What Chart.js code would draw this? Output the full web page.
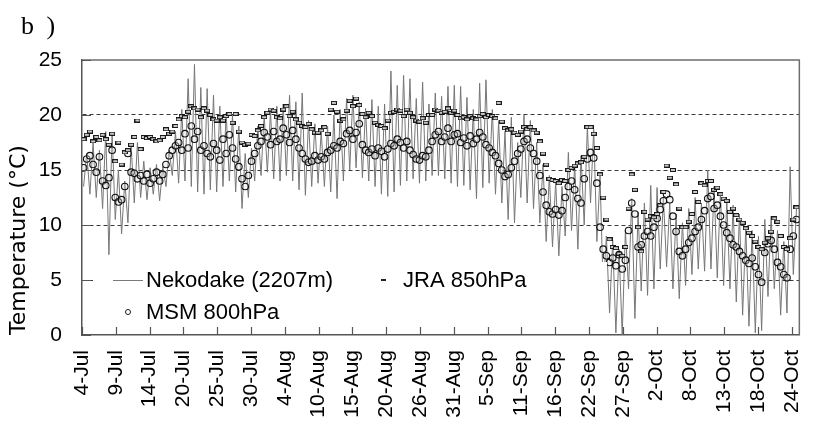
<!DOCTYPE html>
<html>
<head>
<meta charset="utf-8">
<style>
  html, body { margin: 0; padding: 0; background: #fff; }
  #wrap { width: 832px; height: 432px; }
</style>
<script src="https://cdn.jsdelivr.net/npm/chart.js@4.4.1/dist/chart.umd.min.js"></script>
</head>
<body>
<div id="wrap"><canvas id="myChart" width="832" height="432"></canvas></div>
<script>
const tickLabels = ["4-Jul", "9-Jul", "14-Jul", "20-Jul", "25-Jul", "30-Jul", "4-Aug", "10-Aug", "15-Aug", "20-Aug", "26-Aug",
  "31-Aug", "5-Sep", "11-Sep", "16-Sep", "22-Sep", "27-Sep", "2-Oct", "8-Oct", "13-Oct", "18-Oct", "24-Oct"];
const daysPerLabel = 16 / 3; // excel shows a label every 128 hourly categories
const yTicks = [0, 5, 10, 15, 20, 25];

// two readings per day starting 4-Jul
const nekodake = [
  13.5, 16.5, 12.8, 17.5, 12.5, 16.8, 11.5, 18.5, 7.3, 18.4, 10.5, 15.0, 9.2, 14.0, 10.2, 17.3, 12.0, 17.5, 12.5, 15.8,
  12.3, 15.2, 12.8, 15.5, 12.2, 15.3, 13.5, 16.8, 14.5, 18.5, 13.8, 20.5, 14.0, 23.3, 13.5, 24.6, 13.0, 22.5, 12.8, 22.4,
  13.2, 21.8, 13.0, 20.8, 13.5, 20.2, 14.0, 20.0, 13.0, 19.0, 11.5, 16.5, 12.5, 17.0, 14.0, 19.0, 14.5, 20.0, 14.8, 20.3,
  14.2, 20.8, 14.0, 21.0, 14.5, 21.8, 14.0, 21.2, 13.2, 22.0, 12.7, 19.5, 13.5, 19.2, 13.8, 18.5, 13.5, 19.0, 13.0, 20.0,
  12.4, 20.5, 14.0, 21.5, 15.0, 21.8, 15.2, 21.2, 14.3, 20.6, 14.0, 21.4, 13.5, 20.8, 12.8, 21.0, 12.6, 24.0, 13.0, 22.7,
  13.6, 23.6, 14.0, 23.3, 14.2, 21.5, 13.8, 23.0, 14.0, 21.0, 14.5, 22.0, 14.5, 21.7, 14.2, 22.6, 13.8, 22.7, 13.5, 22.6,
  13.6, 21.6, 13.2, 20.5, 12.4, 22.9, 13.4, 23.2, 13.8, 20.5, 12.8, 19.5, 12.0, 18.5, 10.5, 19.8, 10.2, 17.5, 12.5, 20.0,
  12.0, 19.5, 11.5, 17.5, 10.2, 15.5, 8.5, 14.5, 8.0, 14.0, 7.2, 13.5, 9.0, 16.6, 9.5, 15.5, 7.8, 16.3, 10.0, 19.0,
  12.0, 18.7, 8.5, 14.5, 4.0, 9.0, 2.0, 8.6, 0.2, 7.8, 0.0, 9.5, 4.2, 12.4, 1.5, 11.2, 4.0, 12.0, 3.6, 13.6,
  4.2, 13.4, 6.0, 12.5, 6.2, 12.0, 4.2, 11.0, 3.3, 10.2, 4.5, 11.5, 5.5, 12.5, 6.0, 12.0, 5.8, 15.0, 6.0, 13.5,
  5.2, 13.0, 4.5, 12.3, 4.2, 11.8, 3.0, 11.0, 1.8, 9.8, 0.8, 9.5, 0.2, 9.0, 0.4, 10.5, 3.5, 10.8, 4.2, 9.5,
  1.8, 8.5, 2.0, 15.3, 5.5, 11.5
];
const msm800 = [
  15.2, 16.0, 16.3, 15.5, 14.8, 16.2, 14.0, 13.6, 14.3, 16.8, 12.5, 12.1, 12.3, 13.5, 16.5, 14.8, 14.7, 14.2, 14.5, 14.0,
  14.6, 13.8, 14.2, 14.8, 14.0, 14.6, 15.5, 16.3, 16.8, 17.2, 17.5, 16.8, 18.3, 17.0, 19.0, 17.8, 18.5, 16.8, 17.2, 16.5,
  16.2, 17.4, 16.8, 15.9, 17.8, 16.5, 18.2, 17.0, 16.0, 15.3, 14.2, 13.5, 14.5, 15.8, 16.5, 17.2, 17.6, 18.4, 18.0, 17.3,
  18.5, 17.6, 17.8, 18.8, 18.2, 17.5, 18.6, 17.8, 17.0, 16.5, 16.0, 15.7, 15.8, 16.3, 15.9, 16.2, 16.0, 16.6, 16.8, 17.2,
  17.0, 17.6, 17.4, 18.3, 18.6, 17.8, 18.4, 19.2, 17.3, 16.8, 16.6, 16.9, 16.3, 17.0, 16.7, 16.2, 16.9, 17.4, 17.2, 17.8,
  17.5, 17.0, 17.6, 16.8, 16.4, 16.0, 15.9, 16.3, 16.2, 16.8, 17.6, 18.2, 18.5, 17.6, 18.0, 18.8, 17.6, 18.2, 18.3, 17.5,
  17.9, 17.2, 18.1, 17.4, 17.8, 18.4, 18.0, 17.3, 17.0, 16.6, 16.3, 15.6, 15.0, 14.4, 14.6, 15.2, 15.8, 16.5, 16.9, 17.6,
  17.8, 17.0, 16.5, 15.8, 14.5, 13.0, 11.8, 11.2, 11.0, 11.4, 10.9, 11.3, 12.5, 13.5, 14.0, 13.2, 12.4, 12.0, 14.2, 16.0,
  16.6, 16.1, 13.8, 9.8, 7.8, 7.2, 6.6, 7.0, 6.3, 7.3, 6.0, 6.8, 9.5, 12.0, 11.0, 8.0, 8.2, 9.0, 9.4, 9.0,
  9.8, 10.6, 11.4, 12.2, 12.8, 12.3, 10.8, 9.4, 7.6, 7.2, 7.8, 8.4, 8.8, 9.4, 9.8, 10.5, 11.3, 12.4, 12.6, 11.5,
  11.8, 10.8, 10.0, 9.3, 8.8, 8.2, 8.0, 7.6, 7.2, 6.8, 6.5, 7.0, 6.2, 5.5, 4.8, 7.5, 8.3, 8.6, 7.8, 6.6,
  6.2, 5.5, 5.2, 7.8, 9.0, 10.5
];
const jra850 = [
  17.8, 18.2, 18.5, 17.6, 18.0, 17.7, 18.2, 17.8, 17.3, 18.3, 15.8, 17.5, 15.5, 16.6, 16.8, 17.3, 18.0, 19.5, 16.9, 18.0,
  17.9, 18.0, 17.8, 17.6, 17.7, 18.0, 18.7, 18.3, 18.5, 19.0, 19.6, 19.9, 19.8, 20.3, 20.8, 20.6, 20.5, 19.8, 20.6, 20.4,
  20.0, 19.6, 19.5, 19.8, 19.5, 19.9, 20.1, 19.3, 20.1, 18.5, 17.5, 17.3, 17.4, 18.2, 18.1, 18.6, 19.0, 19.8, 20.2, 20.5,
  20.4, 19.8, 19.7, 20.5, 20.8, 19.9, 20.3, 19.6, 19.3, 19.0, 18.9, 19.2, 18.7, 18.4, 18.4, 18.6, 18.9, 18.3, 20.5, 21.1,
  20.3, 19.5, 19.6, 20.4, 21.3, 20.8, 21.5, 20.9, 20.1, 19.8, 20.2, 19.9, 19.3, 19.1, 19.0, 18.8, 19.5, 20.2, 20.3, 20.5,
  20.4, 19.9, 20.5, 20.2, 19.8, 19.5, 19.4, 19.7, 19.3, 20.0, 20.0, 20.5, 20.4, 20.2, 20.3, 20.6, 20.2, 20.4, 20.0, 19.7,
  19.8, 19.6, 19.9, 19.7, 19.6, 19.9, 20.1, 19.8, 20.0, 19.9, 19.7, 21.1, 19.4, 18.8, 18.6, 18.7, 18.4, 18.2, 18.5, 18.9,
  18.7, 18.9, 18.6, 18.4, 17.6, 16.5, 15.5, 14.2, 14.1, 14.0, 13.8, 14.1, 14.0, 15.0, 15.2, 15.4, 15.6, 15.7, 16.2, 18.9,
  18.9, 18.3, 17.0, 14.6, 12.5, 10.5, 8.7, 8.0, 7.9, 7.4, 7.2, 8.0, 11.5, 14.6, 13.2, 9.8, 7.6, 11.2, 10.5, 10.8,
  10.7, 11.0, 11.8, 13.0, 15.4, 14.3, 15.0, 13.7, 11.5, 9.8, 9.8, 10.3, 11.0, 13.0, 12.1, 13.8, 13.6, 14.0, 14.0, 13.2,
  13.4, 12.8, 12.4, 12.2, 11.2, 11.5, 10.9, 10.5, 10.2, 9.7, 9.3, 9.0, 8.5, 8.0, 7.8, 8.4, 8.8, 9.4, 10.6, 10.3,
  9.0, 8.0, 7.8, 8.8, 10.5, 11.6
];

const toPoints = (values) => values.map((v, i) => ({ x: i * 0.5 + 0.25, y: v }));

// little outlined dash used by excel for the JRA marker
const dashMarker = document.createElement("canvas");
dashMarker.width = 6;
dashMarker.height = 4;
const dctx = dashMarker.getContext("2d");
dctx.fillStyle = "#c8c8c8";
dctx.fillRect(0, 0, 6, 4);
dctx.strokeStyle = "#1a1a1a";
dctx.lineWidth = 1;
dctx.strokeRect(0.5, 0.5, 5, 3);

const sans = "'Liberation Sans', Arial, sans-serif";

const plotExtras = {
  id: "plotExtras",
  beforeDatasetsDraw(chart) {
    const { ctx, chartArea: a } = chart;
    ctx.save();
    ctx.strokeStyle = "#6e6e6e";
    ctx.lineWidth = 1.5;
    ctx.beginPath();
    ctx.moveTo(a.left, a.top);
    ctx.lineTo(a.right, a.top);
    ctx.lineTo(a.right, a.bottom);
    ctx.stroke();
    ctx.restore();
  },
  afterDatasetsDraw(chart) {
    const { ctx } = chart;
    const ds = chart.data.datasets;
    ctx.save();
    ctx.fillStyle = "#fff";
    ctx.fillRect(93, 262, 514, 63);
    ctx.font = "22px " + sans;
    ctx.fillStyle = "#000";
    ctx.textBaseline = "middle";
    // Nekodake
    ctx.strokeStyle = "#7a7a7a";
    ctx.lineWidth = 1;
    ctx.beginPath();
    ctx.moveTo(113, 280.5);
    ctx.lineTo(143, 280.5);
    ctx.stroke();
    ctx.fillText(ds[0].label, 146, 281);
    // JRA
    ctx.fillStyle = "#222";
    ctx.fillRect(381, 279, 5, 2);
    ctx.fillStyle = "#000";
    ctx.fillText(ds[2].label, 403, 281);
    // MSM
    ctx.strokeStyle = "#222";
    ctx.beginPath();
    ctx.arc(128, 312, 2.5, 0, Math.PI * 2);
    ctx.stroke();
    ctx.fillText(ds[1].label, 146, 313);
    ctx.restore();
  },
  afterDraw(chart) {
    const { ctx, chartArea: a, scales } = chart;
    ctx.save();
    ctx.strokeStyle = "#555";
    ctx.lineWidth = 1.2;
    ctx.beginPath();
    scales.x.ticks.forEach((t) => {
      const px = Math.round(scales.x.getPixelForValue(t.value)) + 0.5;
      ctx.moveTo(px, a.bottom);
      ctx.lineTo(px, a.bottom - 8);
    });
    scales.y.ticks.forEach((t) => {
      const py = Math.round(scales.y.getPixelForValue(t.value)) + 0.5;
      ctx.moveTo(a.left, py);
      ctx.lineTo(a.left + 9, py);
    });
    ctx.stroke();
    ctx.font = "26px 'Liberation Serif', serif";
    ctx.fillStyle = "#000";
    ctx.textBaseline = "alphabetic";
    ctx.letterSpacing = "3px";
    ctx.fillText("b )", 21, 34);
    ctx.restore();
  },
};

const ctx = document.getElementById("myChart").getContext("2d");
const chart = new Chart(ctx, {
  type: "line",
  data: {
    datasets: [
      {
        label: "Nekodake (2207m)",
        data: toPoints(nekodake),
        borderColor: "#777",
        borderWidth: 1,
        pointRadius: 0,
        tension: 0,
        order: 3,
      },
      {
        label: "MSM 800hPa",
        data: toPoints(msm800),
        showLine: false,
        pointStyle: "circle",
        pointRadius: 3.3,
        pointBorderWidth: 1.1,
        pointBorderColor: "#111",
        pointBackgroundColor: "rgba(220,220,220,0.35)",
        order: 2,
      },
      {
        label: "JRA 850hPa",
        data: toPoints(jra850),
        showLine: false,
        pointStyle: dashMarker,
        pointRadius: 3,
        order: 1,
      },
    ],
  },
  options: {
    responsive: false,
    animation: false,
    devicePixelRatio: 1,
    layout: { padding: { top: 60, right: 6, left: 0, bottom: 0 } },
    plugins: {
      legend: { display: false },
      tooltip: { enabled: false },
    },
    scales: {
      x: {
        type: "linear",
        min: 0,
        max: 113.2,
        afterBuildTicks: (scale) => {
          scale.ticks = tickLabels.map((_, i) => ({ value: i * daysPerLabel }));
        },
        afterFit: (scale) => {
          scale.height = 97;
        },
        grid: { display: false, drawTicks: false },
        border: { display: true, color: "#555", width: 1.5 },
        ticks: {
          autoSkip: false,
          minRotation: 90,
          maxRotation: 90,
          padding: 15,
          color: "#000",
          font: { family: sans, size: 21 },
          callback: (value, index) => tickLabels[index],
        },
      },
      y: {
        min: 0,
        max: 25,
        afterBuildTicks: (scale) => {
          scale.ticks = yTicks.map((v) => ({ value: v }));
        },
        afterFit: (scale) => {
          scale.width = 82;
        },
        grid: {
          color: (c) => (c.tick && c.tick.value > 0 && c.tick.value < 25 ? "#3a3a3a" : "rgba(0,0,0,0)"),
          lineWidth: 1,
          drawTicks: false,
        },
        border: { display: true, color: "#555", width: 1.5, dash: [4, 3] },
        ticks: {
          padding: 20,
          color: "#000",
          font: { family: sans, size: 21 },
        },
        title: {
          display: true,
          text: "Temperature (°C)",
          align: "start",
          color: "#000",
          font: { family: "'DejaVu Sans', sans-serif", size: 22 },
          padding: { top: 6, bottom: 0 },
        },
      },
    },
  },
  plugins: [plotExtras],
});
</script>
</body>
</html>
